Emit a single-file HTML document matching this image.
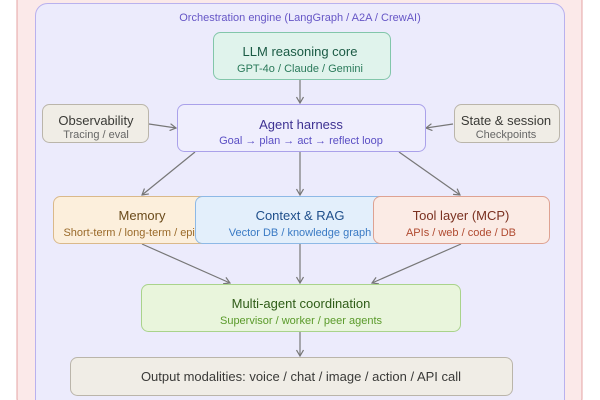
<!DOCTYPE html>
<html><head><meta charset="utf-8"><style>
html,body{margin:0;padding:0;background:#fff;width:600px;height:400px;overflow:hidden}
svg{display:block}
svg text{font-family:"Liberation Sans",sans-serif;text-anchor:middle}
</style></head><body>
<svg width="600" height="400" viewBox="0 0 600 400" xmlns="http://www.w3.org/2000/svg">
<defs><marker id="a" markerWidth="8" markerHeight="8" refX="7" refY="4" orient="auto" markerUnits="userSpaceOnUse"><path d="M1,0.5 L7,4 L1,7.5" fill="none" stroke="#777" stroke-width="1.2"/></marker></defs>
<rect x="17" y="-20" width="565" height="430" rx="12" fill="#fbe9e9" stroke="#e4a4a4" stroke-width="1"/>
<rect x="35.5" y="3.5" width="529" height="410" rx="12" fill="#ecebfc" stroke="#b9b1ee" stroke-width="1"/>
<text x="300" y="21" font-size="11" fill="#6656c6">Orchestration engine (LangGraph / A2A / CrewAI)</text>
<g stroke="#777" stroke-width="1.2" fill="none" marker-end="url(#a)">
<line x1="300" y1="80" x2="300" y2="103"/>
<line x1="149" y1="124" x2="176" y2="128"/>
<line x1="453" y1="124" x2="426" y2="128"/>
<line x1="195" y1="152" x2="142" y2="195"/>
<line x1="300" y1="152" x2="300" y2="195"/>
<line x1="399" y1="152" x2="460" y2="195"/>
<line x1="142" y1="244" x2="230" y2="283"/>
<line x1="300" y1="244" x2="300" y2="283"/>
<line x1="461" y1="244" x2="372" y2="283"/>
<line x1="300" y1="332" x2="300" y2="356"/>
</g>
<rect x="213.5" y="32.5" width="177" height="47" rx="7" fill="#e0f3ec" stroke="#82c6aa"/>
<text x="300" y="56" font-size="13" fill="#1a5a44">LLM reasoning core</text>
<text x="300" y="72" font-size="11" fill="#2a7a5a">GPT-4o / Claude / Gemini</text>
<rect x="177.5" y="104.5" width="248" height="47" rx="7" fill="#efeefd" stroke="#aaa1ea"/>
<text x="301" y="129" font-size="13" fill="#3e3292">Agent harness</text>
<text x="301" y="144" font-size="11" fill="#5a4ec4">Goal → plan → act → reflect loop</text>
<rect x="42.5" y="104.5" width="106" height="38" rx="7" fill="#f0ede6" stroke="#bab5aa"/>
<text x="96" y="125" font-size="13" fill="#3a3a36">Observability</text>
<text x="96" y="138" font-size="11" fill="#666">Tracing / eval</text>
<rect x="454.5" y="104.5" width="105" height="38" rx="7" fill="#f0ede6" stroke="#bab5aa"/>
<text x="506" y="125" font-size="13" fill="#3a3a36">State &amp; session</text>
<text x="506" y="138" font-size="11" fill="#666">Checkpoints</text>
<rect x="53.5" y="196.5" width="180" height="47" rx="7" fill="#fcefdc" stroke="#dab98a"/>
<text x="142" y="220" font-size="13" fill="#6a4a1a">Memory</text>
<text x="142" y="236" font-size="11" fill="#9a6a2a">Short-term / long-term / episodic</text>
<rect x="195.5" y="196.5" width="200" height="47" rx="7" fill="#e3effb" stroke="#8db9e6"/>
<text x="300" y="220" font-size="13" fill="#1e4e8a">Context &amp; RAG</text>
<text x="300" y="236" font-size="11" fill="#3a7ac4">Vector DB / knowledge graph</text>
<rect x="373.5" y="196.5" width="176" height="47" rx="7" fill="#fbebe5" stroke="#dea292"/>
<text x="461" y="220" font-size="13" fill="#7a3020">Tool layer (MCP)</text>
<text x="461" y="236" font-size="11" fill="#b04a30">APIs / web / code / DB</text>
<rect x="141.5" y="284.5" width="319" height="47" rx="7" fill="#e9f5dc" stroke="#a9d38b"/>
<text x="301" y="308" font-size="13" fill="#2f5c18">Multi-agent coordination</text>
<text x="301" y="324" font-size="11" fill="#5a9a2a">Supervisor / worker / peer agents</text>
<rect x="70.5" y="357.5" width="442" height="38" rx="7" fill="#f0ede6" stroke="#bab5aa"/>
<text x="301" y="381" font-size="13" fill="#3a3a38">Output modalities: voice / chat / image / action / API call</text>
</svg>
</body></html>
